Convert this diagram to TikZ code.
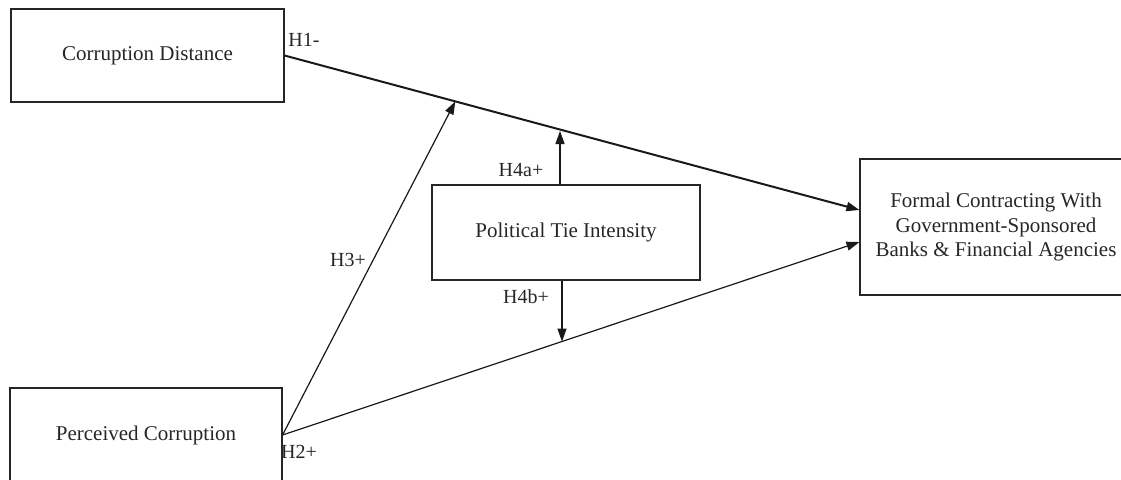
\documentclass[tikz,border=0pt]{standalone}
\usepackage{fontspec}
\setmainfont{Liberation Serif}
\usetikzlibrary{calc,arrows.meta}
\begin{document}
\begin{tikzpicture}[x=1pt,y=-1pt,
  box/.style={draw=black!85, line width=1.1pt, fill=none, inner sep=0pt, font=\fontsize{21}{24.5}\selectfont, align=center, text=black!85},
  lbl/.style={font=\fontsize{20}{24}\selectfont, text=black!85, inner sep=0pt},
  conn/.style={draw=black!90, line width=1.2pt},
  arr/.style={conn, -{Triangle[length=13pt,width=9pt]}}]
\clip (0,0) rectangle (1121,479);
\node[box, minimum width=273pt, minimum height=93pt] (cd) at (147.5,55.5) {Corruption Distance};
\node[box, minimum width=272pt, minimum height=94pt] (pc) at (146,435) {Perceived Corruption};
\node[box, minimum width=268pt, minimum height=95pt] (pti) at (566,232.5) {Political Tie Intensity};
\node[box, minimum width=272pt, minimum height=136pt] (fc) at (996,227) {Formal Contracting With\\Government-Sponsored\\Banks \& Financial Agencies};
\coordinate (t1) at ([yshift=17pt]fc.west);
\coordinate (t2) at ([yshift=-15pt]fc.west);
\coordinate (m3) at ($(cd.east)!0.297!(t1)$);
\coordinate (m4a) at ($(cd.east)!0.479!(t1)$);
\coordinate (m4b) at ($(pc.east)!0.484!(t2)$);
\coordinate (s4a) at ([xshift=-6pt]pti.north);
\coordinate (s4b) at ([xshift=-4pt]pti.south);
\draw[arr, line width=2pt] (cd.east) -- (t1);
\draw[arr] (pc.east) -- (t2);
\draw[arr] (pc.east) -- (m3);
\draw[arr] (s4a) -- ([yshift=-1.5pt]s4a |- m4a);
\draw[arr] (s4b) -- (s4b |- m4b);
\node[lbl] (l1) at (304,40) {H1-};
\node[lbl] (l2) at (299,452) {H2+};
\node[lbl] (l3) at (348,260) {H3+};
\node[lbl] (l4a) at (521,170) {H4a+};
\node[lbl] (l4b) at (526,297) {H4b+};
\end{tikzpicture}
\end{document}
